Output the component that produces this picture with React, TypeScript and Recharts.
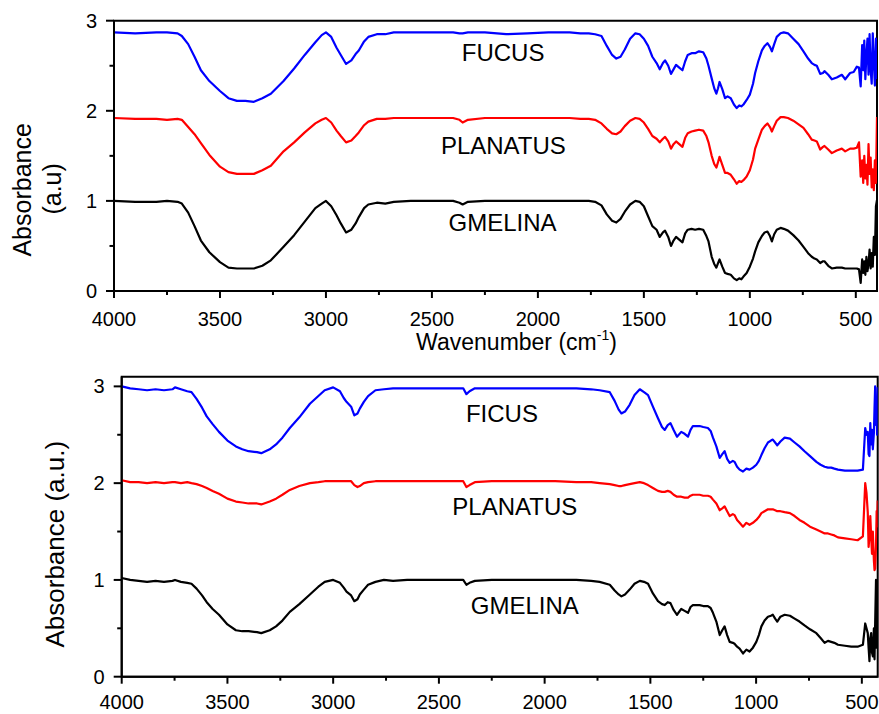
import React from 'react';
import { LineChart, Line, XAxis, YAxis, ReferenceArea, ReferenceDot } from 'recharts';

const FONT = '"Liberation Sans", Arial, Helvetica, sans-serif';

// ---------- top panel data ----------
const topWavenumber = [
  4000, 3900, 3800, 3750, 3700, 3680, 3650, 3620, 3590, 3550, 3500, 3460, 3420, 3380, 3340, 3300, 3260, 3200, 3150, 3100,
  3050, 3020, 3000, 2975, 2950, 2930, 2905, 2880, 2860, 2845, 2820, 2800, 2760, 2720, 2680, 2600, 2500, 2400, 2370, 2355,
  2330, 2250, 2150, 2050, 1950, 1850, 1800, 1760, 1730, 1700, 1675, 1650, 1630, 1610, 1590, 1565, 1540, 1520, 1500, 1480,
  1460, 1440, 1425, 1410, 1400, 1385, 1372, 1360, 1348, 1333, 1318, 1305, 1293, 1275, 1258, 1240, 1220, 1205, 1195, 1180,
  1168, 1158, 1150, 1143, 1130, 1117, 1105, 1090, 1075, 1062, 1050, 1040, 1030, 1015, 1000, 985, 975, 960, 943, 930,
  917, 905, 896, 885, 873, 855, 840, 820, 795, 770, 747, 725, 708, 695, 684, 668, 655, 648, 630, 613,
  590, 566, 550, 527, 510, 495, 485, 477, 470, 465, 460, 455, 450, 445, 440, 435, 430, 425, 420, 415,
  410, 405, 400,
];
const fucus = [
  2.87, 2.86, 2.87, 2.87, 2.86, 2.83, 2.74, 2.6, 2.45, 2.33, 2.22, 2.14, 2.11, 2.11, 2.1, 2.14, 2.19, 2.33, 2.47, 2.62,
  2.76, 2.84, 2.87, 2.82, 2.7, 2.62, 2.52, 2.56, 2.63, 2.67, 2.77, 2.82, 2.85, 2.85, 2.87, 2.87, 2.87, 2.87, 2.86, 2.86,
  2.87, 2.87, 2.85, 2.86, 2.87, 2.87, 2.86, 2.86, 2.85, 2.83, 2.72, 2.62, 2.58, 2.6, 2.68, 2.8, 2.86, 2.85, 2.8, 2.72,
  2.6, 2.53, 2.46, 2.53, 2.56, 2.5, 2.41, 2.46, 2.51, 2.48, 2.45, 2.55, 2.62, 2.64, 2.64, 2.66, 2.65, 2.58, 2.5, 2.36,
  2.25, 2.19, 2.25, 2.32, 2.24, 2.14, 2.16, 2.14, 2.07, 2.03, 2.06, 2.05, 2.07, 2.12, 2.18, 2.3, 2.42, 2.55, 2.67, 2.72,
  2.75, 2.71, 2.66, 2.74, 2.82, 2.86, 2.87, 2.86, 2.8, 2.74, 2.66, 2.58, 2.53, 2.51, 2.5, 2.41, 2.42, 2.44, 2.4, 2.35,
  2.37, 2.4, 2.35, 2.42, 2.43, 2.49, 2.48, 2.27, 2.73, 2.45, 2.78, 2.35, 2.62, 2.8, 2.4, 2.85, 2.46, 2.3, 2.86, 2.55,
  2.28, 2.8, 2.35,
];
const planatusTop = [
  1.92, 1.91, 1.91, 1.9, 1.91, 1.9, 1.82, 1.74, 1.64, 1.51, 1.38, 1.32, 1.3, 1.3, 1.3, 1.34, 1.39, 1.55, 1.65, 1.76,
  1.86, 1.9, 1.92, 1.87, 1.78, 1.72, 1.65, 1.67, 1.72, 1.76, 1.84, 1.88, 1.91, 1.91, 1.92, 1.92, 1.92, 1.92, 1.9, 1.87,
  1.9, 1.92, 1.92, 1.92, 1.92, 1.92, 1.91, 1.91, 1.9, 1.86, 1.8, 1.75, 1.74, 1.77, 1.83, 1.89, 1.92, 1.91, 1.87, 1.8,
  1.72, 1.69, 1.65, 1.69, 1.71, 1.66, 1.58, 1.63, 1.66, 1.63, 1.6, 1.7, 1.75, 1.77, 1.78, 1.79, 1.78, 1.72, 1.65, 1.5,
  1.41, 1.37, 1.43, 1.49, 1.4, 1.31, 1.31, 1.29, 1.24, 1.19, 1.22, 1.21, 1.23, 1.27, 1.34, 1.46, 1.58, 1.68, 1.79, 1.83,
  1.86, 1.82, 1.77, 1.83, 1.89, 1.93, 1.93, 1.92, 1.89, 1.85, 1.81, 1.74, 1.68, 1.67, 1.66, 1.57, 1.6, 1.61, 1.57, 1.53,
  1.56, 1.58, 1.55, 1.58, 1.58, 1.59, 1.65, 1.27, 1.45, 1.2, 1.5, 1.25, 1.4, 1.18, 1.63, 1.3, 1.48, 1.15, 1.35, 1.12,
  1.45, 1.2, 1.93,
];
const gmelinaTop = [
  1.0, 0.99, 0.99, 1.0, 0.99, 0.97, 0.87, 0.72, 0.56, 0.43, 0.32, 0.26, 0.25, 0.25, 0.25, 0.28, 0.34, 0.49, 0.62, 0.77,
  0.92, 0.97, 1.0, 0.94, 0.84, 0.75, 0.65, 0.68, 0.75, 0.82, 0.92, 0.96, 0.98, 0.97, 0.99, 1.0, 1.0, 1.0, 0.98, 0.96,
  0.99, 1.0, 1.0, 1.0, 1.0, 1.0, 1.0, 1.0, 0.99, 0.95, 0.85, 0.78, 0.76, 0.8, 0.88, 0.96, 1.0, 0.99, 0.94, 0.83,
  0.72, 0.68, 0.6, 0.65, 0.67, 0.6, 0.5, 0.56, 0.6, 0.57, 0.54, 0.64, 0.68, 0.69, 0.68, 0.69, 0.68, 0.61, 0.55, 0.38,
  0.3, 0.26, 0.31, 0.35, 0.27, 0.2, 0.19, 0.18, 0.14, 0.12, 0.14, 0.13, 0.16, 0.2, 0.27, 0.36, 0.44, 0.54, 0.61, 0.65,
  0.66, 0.61, 0.55, 0.63, 0.68, 0.7, 0.69, 0.67, 0.62, 0.56, 0.49, 0.42, 0.38, 0.36, 0.35, 0.31, 0.33, 0.33, 0.28, 0.25,
  0.26, 0.26, 0.25, 0.25, 0.25, 0.25, 0.24, 0.09, 0.35, 0.2, 0.33, 0.18, 0.38, 0.22, 0.3, 0.46, 0.25, 0.42, 0.27, 0.6,
  0.4, 0.94, 1.01,
];

// ---------- bottom panel data ----------
const bottomWavenumber = [
  4000, 3960, 3920, 3880, 3840, 3800, 3760, 3748, 3720, 3690, 3670, 3646, 3620, 3598, 3570, 3540, 3500, 3460, 3430, 3400,
  3360, 3340, 3300, 3270, 3240, 3205, 3160, 3110, 3070, 3040, 3000, 2968, 2950, 2937, 2915, 2900, 2885, 2874, 2855, 2835,
  2800, 2760, 2717, 2650, 2550, 2450, 2385, 2370, 2355, 2330, 2250, 2150, 2050, 1950, 1850, 1780, 1740, 1692, 1669, 1650,
  1637, 1620, 1598, 1575, 1550, 1530, 1511, 1488, 1464, 1445, 1432, 1418, 1405, 1390, 1374, 1354, 1338, 1322, 1310, 1299,
  1280, 1267, 1250, 1228, 1215, 1204, 1188, 1172, 1160, 1149, 1137, 1125, 1110, 1102, 1090, 1078, 1062, 1046, 1031, 1015,
  999, 987, 975, 960, 944, 930, 921, 910, 900, 885, 865, 840, 818, 795, 771, 745, 715, 695, 676, 660,
  645, 630, 613, 580, 550, 520, 495, 484, 478, 472, 468, 464, 460, 456, 452, 448, 443, 440, 437, 433,
  430, 428, 425,
];
const ficus = [
  3.0, 2.98, 2.97, 2.96, 2.97, 2.96, 2.97, 2.99, 2.97, 2.95, 2.94, 2.87, 2.78, 2.69, 2.61, 2.53, 2.44, 2.38, 2.35, 2.33,
  2.32, 2.31, 2.35, 2.4, 2.47, 2.57, 2.68, 2.82, 2.9, 2.96, 2.99, 2.95, 2.88, 2.84, 2.79, 2.7, 2.72, 2.77, 2.84, 2.9,
  2.96, 2.97, 2.98, 2.98, 2.98, 2.98, 2.98, 2.92, 2.95, 2.98, 2.98, 2.98, 2.98, 2.98, 2.98, 2.97, 2.96, 2.94, 2.85, 2.76,
  2.72, 2.74, 2.81, 2.91, 2.97, 2.94, 2.91, 2.79, 2.67, 2.58, 2.55, 2.6, 2.62, 2.55, 2.48, 2.53, 2.51, 2.48, 2.55, 2.59,
  2.59, 2.59, 2.58, 2.57, 2.54, 2.47, 2.38, 2.26, 2.3, 2.33, 2.25, 2.21, 2.23, 2.22, 2.17, 2.14, 2.12, 2.15, 2.14, 2.16,
  2.19, 2.23, 2.29, 2.36, 2.42, 2.44, 2.45, 2.42, 2.39, 2.43, 2.47, 2.46, 2.42, 2.38, 2.33, 2.28, 2.22, 2.19, 2.17, 2.16,
  2.16, 2.15, 2.14, 2.13, 2.13, 2.13, 2.14, 2.57, 2.5, 2.53, 2.3, 2.28, 2.62, 2.4, 2.55, 2.35, 2.52, 2.78, 3.0, 2.6,
  2.85, 2.5, 2.99,
];
const planatusBottom = [
  2.03, 2.01, 2.01, 2.0, 2.01, 2.0, 2.01, 2.01, 2.0, 2.01, 2.0, 1.99, 1.97, 1.95, 1.92, 1.89, 1.84, 1.81, 1.8, 1.79,
  1.79, 1.78, 1.81, 1.84, 1.88, 1.93, 1.97, 2.0, 2.01, 2.02, 2.02, 2.02, 2.02, 2.02, 2.02, 1.98, 1.96, 1.97, 2.0, 2.01,
  2.02, 2.02, 2.02, 2.02, 2.02, 2.02, 2.02, 1.96, 1.98, 2.01, 2.02, 2.02, 2.02, 2.02, 2.01, 2.01, 2.0, 1.99, 1.98, 1.97,
  1.97, 1.98, 1.99, 2.0, 2.01, 2.0, 1.98, 1.95, 1.92, 1.91, 1.91, 1.92, 1.91, 1.88, 1.86, 1.86, 1.85, 1.85, 1.87, 1.88,
  1.88, 1.88, 1.87, 1.87, 1.86, 1.83, 1.79, 1.72, 1.74, 1.76, 1.71, 1.66, 1.68, 1.67, 1.62, 1.59, 1.55, 1.59, 1.57, 1.59,
  1.62, 1.65, 1.69, 1.71, 1.73, 1.73, 1.73, 1.72, 1.71, 1.71, 1.7, 1.69, 1.66, 1.62, 1.59, 1.55, 1.52, 1.5, 1.48, 1.48,
  1.47, 1.46, 1.44, 1.43, 1.42, 1.41, 1.45, 2.0, 1.9, 1.7, 1.34, 1.45, 1.66, 1.45, 1.27, 1.5, 1.2, 1.1, 1.12, 1.35,
  1.71, 1.55, 1.82,
];
const gmelinaBottom = [
  1.02, 1.0, 0.99, 0.98, 0.99, 0.98, 0.99, 1.0, 0.98, 0.97, 0.96, 0.91, 0.84, 0.77, 0.7, 0.64, 0.54, 0.48, 0.47, 0.47,
  0.46, 0.45, 0.48, 0.52, 0.58, 0.67, 0.75, 0.85, 0.93, 0.98, 1.0, 0.97, 0.92, 0.88, 0.84, 0.78, 0.8, 0.85, 0.9, 0.95,
  0.98, 1.0, 0.99, 1.0, 1.0, 1.0, 1.0, 0.95, 0.97, 0.99, 1.0, 1.0, 1.0, 1.0, 1.0, 0.99, 0.98, 0.95, 0.89, 0.85,
  0.83, 0.85, 0.9, 0.96, 0.99, 0.98, 0.96, 0.86, 0.78, 0.75, 0.74, 0.77, 0.76, 0.69, 0.64, 0.7, 0.68, 0.66, 0.72, 0.74,
  0.74, 0.74, 0.73, 0.73, 0.71, 0.66, 0.57, 0.43, 0.48, 0.52, 0.43, 0.36, 0.35, 0.34, 0.31, 0.29, 0.24, 0.28, 0.26, 0.3,
  0.36, 0.43, 0.52, 0.58, 0.62, 0.63, 0.64, 0.6, 0.57, 0.62, 0.64, 0.63, 0.6, 0.57, 0.53, 0.49, 0.45, 0.4, 0.35, 0.37,
  0.36, 0.35, 0.33, 0.32, 0.31, 0.31, 0.33, 0.55, 0.5, 0.45, 0.3, 0.16, 0.4, 0.45, 0.25, 0.21, 0.5, 0.18, 0.55, 1.0,
  0.3, 0.65, 1.0,
];

// ---------- axes ----------
const xTicks = [4000, 3750, 3500, 3250, 3000, 2750, 2500, 2250, 2000, 1750, 1500, 1250, 1000, 750, 500];
const yTicks = [0, 0.5, 1, 1.5, 2, 2.5, 3];
const MAJOR_X = 500;
const MAJOR_Y = 1;

const BLUE = '#0000ff';
const RED = '#ff0000';
const BLACK = '#000000';

const topSeriesNames = ['FUCUS', 'PLANATUS', 'GMELINA'];
const bottomSeriesNames = ['FICUS', 'PLANATUS', 'GMELINA'];

const TS = 8;
const TM = 2;

const XTick = (props: any) => {
  const { x, y, payload, labelOffset } = props;
  const axisY = y - TS - TM;
  const major = payload.value % MAJOR_X === 0;
  return (
    <g>
      <line x1={x} x2={x} y1={axisY} y2={axisY + (major ? 7 : 4)} stroke="#000" strokeWidth={2} />
      {major && (
        <text x={x} y={axisY + (labelOffset || 35)} textAnchor="middle" fontSize={20} fontFamily={FONT} fill="#000">
          {payload.value}
        </text>
      )}
    </g>
  );
};

const YTick = (props: any) => {
  const { x, y, payload } = props;
  const axisX = x + TS + TM;
  const major = Math.abs(payload.value % MAJOR_Y) < 1e-9;
  return (
    <g>
      <line x1={axisX} x2={axisX - (major ? 8 : 4.5)} y1={y} y2={y} stroke="#000" strokeWidth={2} />
      {major && (
        <text x={axisX - 17} y={y} dy="0.355em" textAnchor="end" fontSize={20} fontFamily={FONT} fill="#000">
          {payload.value}
        </text>
      )}
    </g>
  );
};

const nameLabel = (text: string) => (p: any) => {
  const vb = p.viewBox || {};
  const cx = (vb.x || 0) + (vb.width || 0) / 2;
  const cy = (vb.y || 0) + (vb.height || 0) / 2;
  return (
    <text x={cx} y={cy} dy="0.355em" textAnchor="middle" fontSize={24} fontFamily={FONT} fill="#000">
      {text}
    </text>
  );
};

function Panel(props: any) {
  const {
    rows,
    labels,
    xDomain,
    yDomain,
    width,
    height,
    margin,
    yAxisWidth,
    xAxisHeight,
    xLabel,
    yLabel,
    tickLabelOffset,
  } = props;
  const colors = [BLUE, RED, BLACK];
  return (
    <LineChart width={width} height={height} data={rows} margin={margin} style={{ fontFamily: FONT }}>
      <XAxis
        dataKey="w"
        type="number"
        domain={xDomain}
        reversed
        allowDataOverflow
        ticks={xTicks}
        interval={0}
        tickSize={TS}
        tickMargin={TM}
        tickLine={false}
        tick={<XTick labelOffset={tickLabelOffset} />}
        axisLine={{ stroke: '#000', strokeWidth: 2 }}
        height={xAxisHeight}
        label={xLabel}
      />
      <YAxis
        type="number"
        domain={yDomain}
        allowDataOverflow
        ticks={yTicks}
        interval={0}
        tickSize={TS}
        tickMargin={TM}
        tickLine={false}
        tick={<YTick />}
        axisLine={{ stroke: '#000', strokeWidth: 2 }}
        width={yAxisWidth}
        label={yLabel}
      />
      <ReferenceArea
        x1={xDomain[1]}
        x2={xDomain[0]}
        y1={yDomain[0]}
        y2={yDomain[1]}
        fill="none"
        fillOpacity={0}
        stroke="#000"
        strokeWidth={2}
        ifOverflow="visible"
      />
      {['s1', 's2', 's3'].map((k, i) => (
        <Line
          key={k}
          dataKey={k}
          type="linear"
          stroke={colors[i]}
          strokeWidth={2.2}
          strokeLinejoin="round"
          dot={false}
          activeDot={false}
          isAnimationActive={false}
        />
      ))}
      {labels.map((l: any) => (
        <ReferenceDot
          key={l.text + l.w}
          x={l.w}
          y={l.a}
          r={0}
          fill="none"
          stroke="none"
          ifOverflow="visible"
          label={{ position: 'center', content: nameLabel(l.text) }}
        />
      ))}
    </LineChart>
  );
}

const topRows = topWavenumber.map((w, i) => ({ w, s1: fucus[i], s2: planatusTop[i], s3: gmelinaTop[i] }));
const bottomRows = bottomWavenumber.map((w, i) => ({
  w,
  s1: ficus[i],
  s2: planatusBottom[i],
  s3: gmelinaBottom[i],
}));

const topLabelAnchors = [
  { w: 2164, a: 2.65 },
  { w: 2163, a: 1.617 },
  { w: 2167, a: 0.757 },
];
const bottomLabelAnchors = [
  { w: 2202, a: 2.72 },
  { w: 2141, a: 1.764 },
  { w: 2094, a: 0.733 },
];

const topXLabel = {
  content: (p: any) => {
    const vb = p.viewBox || {};
    return (
      <text
        x={vb.x + vb.width / 2 + 21}
        y={vb.y + 59}
        textAnchor="middle"
        fontSize={23}
        fontFamily={FONT}
        fill="#000"
      >
        Wavenumber (cm
        <tspan dy={-10} fontSize={14}>
          -1
        </tspan>
        <tspan dy={10}>)</tspan>
      </text>
    );
  },
};

const topYLabel = {
  content: (p: any) => {
    const vb = p.viewBox || {};
    const cy = vb.y + vb.height / 2 + 34;
    return (
      <g>
        <text
          x={22.5}
          y={cy}
          dy="0.355em"
          transform={`rotate(-90 22.5 ${cy})`}
          textAnchor="middle"
          fontSize={25}
          fontFamily={FONT}
          fill="#000"
        >
          Absorbance
        </text>
        <text
          x={52.5}
          y={cy - 1}
          dy="0.355em"
          transform={`rotate(-90 52.5 ${cy - 1})`}
          textAnchor="middle"
          fontSize={25}
          fontFamily={FONT}
          fill="#000"
        >
          (a.u)
        </text>
      </g>
    );
  },
};

const bottomYLabel = {
  content: (p: any) => {
    const vb = p.viewBox || {};
    const cy = vb.y + vb.height / 2 + 17.5;
    return (
      <text
        x={55}
        y={cy}
        dy="0.355em"
        transform={`rotate(-90 55 ${cy})`}
        textAnchor="middle"
        fontSize={26}
        fontFamily={FONT}
        fill="#000"
      >
        Absorbance (a.u.)
      </text>
    );
  },
};

export default function App() {
  return (
    <div style={{ position: 'absolute', left: 0, top: 0, width: 879, height: 714, background: '#fff' }}>
      <div style={{ position: 'absolute', left: 0, top: 0 }}>
        <Panel
          rows={topRows}
          labels={topSeriesNames.map((t, i) => ({ text: t, ...topLabelAnchors[i] }))}
          xDomain={[400, 4000]}
          yDomain={[0, 3]}
          width={879}
          height={360}
          margin={{ top: 20.7, right: 2, bottom: 9, left: 0 }}
          yAxisWidth={114}
          xAxisHeight={60}
          xLabel={topXLabel}
          yLabel={topYLabel}
          tickLabelOffset={35}
        />
      </div>
      <div style={{ position: 'absolute', left: 0, top: 360 }}>
        <Panel
          rows={bottomRows}
          labels={bottomSeriesNames.map((t, i) => ({ text: t, ...bottomLabelAnchors[i] }))}
          xDomain={[425, 4000]}
          yDomain={[0, 3.1]}
          width={879}
          height={354}
          margin={{ top: 16.7, right: 1.3, bottom: 0.3, left: 0 }}
          yAxisWidth={121.7}
          xAxisHeight={37}
          yLabel={bottomYLabel}
          tickLabelOffset={32}
        />
      </div>
    </div>
  );
}
